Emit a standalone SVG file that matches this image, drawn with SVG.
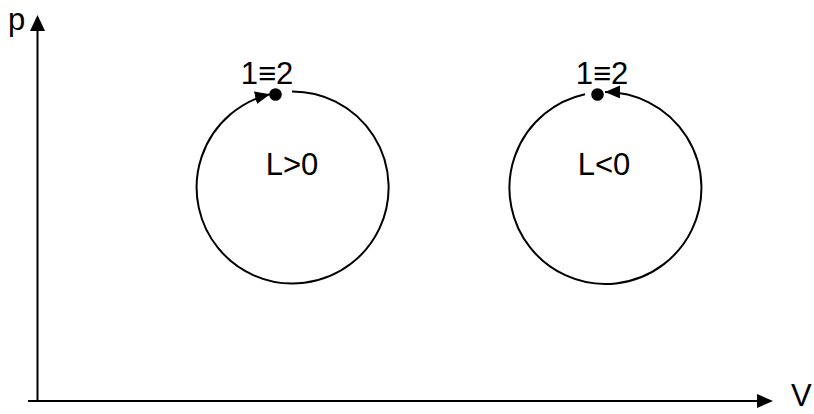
<svg xmlns="http://www.w3.org/2000/svg" width="814" height="414" viewBox="0 0 814 414">
<style>
text{font-family:"Liberation Sans",Arial,sans-serif;font-size:31px;fill:#000}
.ln{fill:none;stroke:#000;stroke-width:2}
.ah{fill:#000}
</style>
<defs>
<marker id="arr" markerUnits="userSpaceOnUse" markerWidth="16" markerHeight="14" refX="15" refY="6.5" orient="auto">
<path d="M0,0 L15,6.5 L0,13 Z" fill="#000"/>
</marker>
</defs>
<rect width="814" height="414" fill="#fff"/>
<g id="axes">
<line class="ln" x1="37.5" y1="402" x2="37.5" y2="28"/>
<polygon class="ah" points="37.5,15 30,31 45,31"/>
<line class="ln" x1="28" y1="401" x2="760" y2="401"/>
<polygon class="ah" points="773,401 757,394 757,408"/>
<text x="8" y="30">p</text>
<text x="791" y="406">V</text>
</g>
<g id="connectors">
<path class="ln" d="M292,91.5 A96,96 0 1 1 270,94.2" marker-end="url(#arr)"/>
<path class="ln" d="M585,94.2 A96,96 0 1 0 605,92" marker-end="url(#arr)"/>
</g>
<g id="cycle1">
<circle cx="275.5" cy="94.5" r="6.3" fill="#000"/>
<text x="267" y="83.5" text-anchor="middle">1≡2</text>
<text x="292" y="175" text-anchor="middle">L&gt;0</text>
</g>
<g id="cycle2">
<circle cx="597.5" cy="94.5" r="6.3" fill="#000"/>
<text x="602" y="83.5" text-anchor="middle">1≡2</text>
<text x="604" y="175" text-anchor="middle">L&lt;0</text>
</g>
</svg>
